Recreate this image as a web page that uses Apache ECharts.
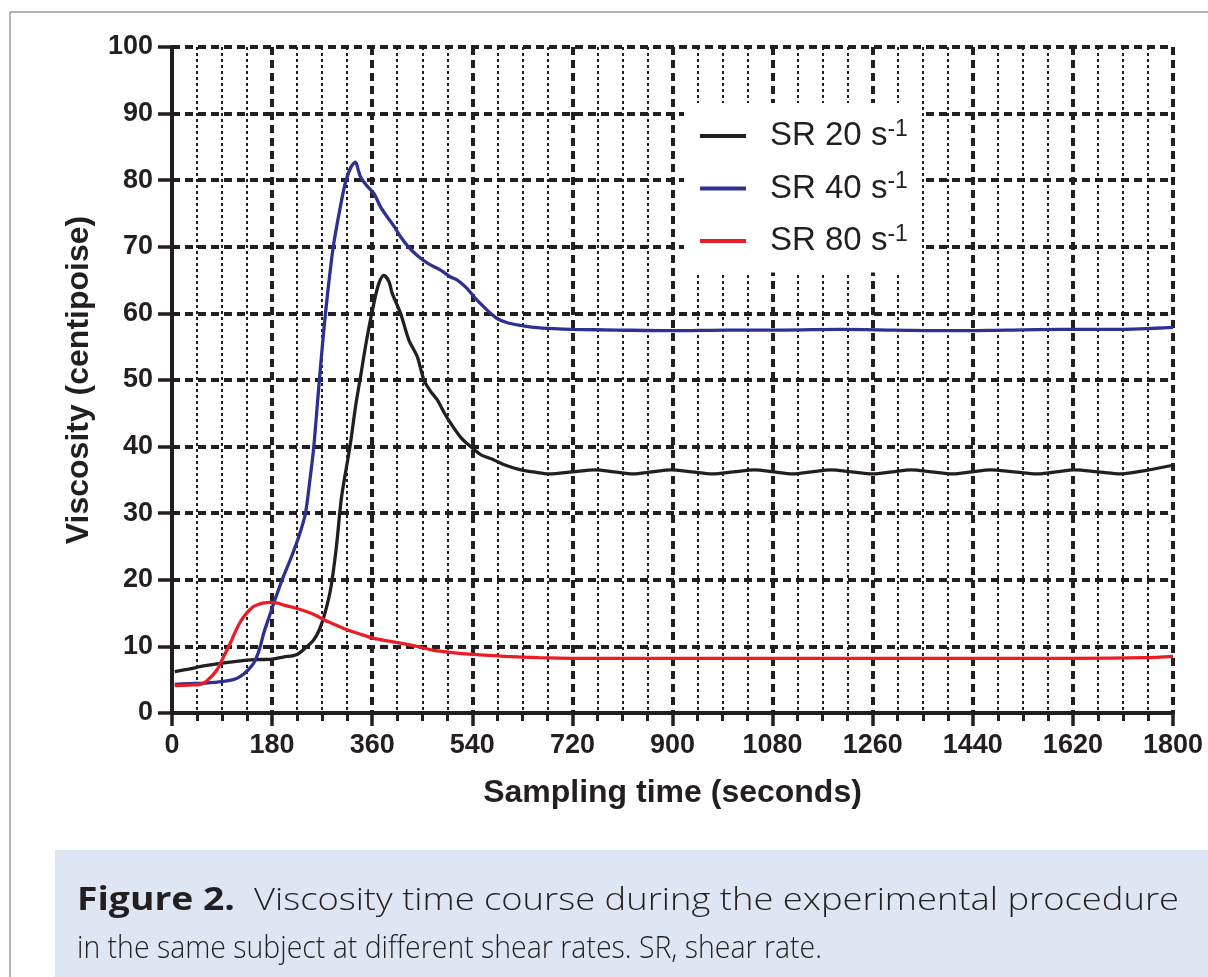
<!DOCTYPE html>
<html>
<head>
<meta charset="utf-8">
<script src="https://cdn.jsdelivr.net/npm/echarts@6/dist/echarts.min.js"></script>
<style>
html,body{margin:0;padding:0;background:#fff;}
#chart{width:1208px;height:977px;}
</style>
</head>
<body>
<div id="chart"></div>
<script>
// ---- data ----
const seriesNames = ['SR 20', 'SR 40', 'SR 80'];
const unitText = 's';
const unitExp = '-1';
const xMin = 0, xMax = 1800, xStep = 180;
const yMin = 0, yMax = 100, yStep = 10;
const xAxisTitle = 'Sampling time (seconds)';
const yAxisTitle = 'Viscosity (centipoise)';
const captionBold = 'Figure 2.';
const captionLine1 = 'Viscosity time course during the experimental procedure';
const captionLine2 = 'in the same subject at different shear rates. SR, shear rate.';

const sr20Time = [5,30,60,90,120,150,180,200,225,243,255,265,275,285,295,305,320,330,339,350,363,372,381,390,396,411,426,441,453,465,477,490,501,520,537,555,579,600,627,650,678,720,761,795,829,863,897,935,972,1010,1048,1082,1116,1150,1185,1222,1260,1295,1329,1366,1404,1438,1472,1514,1556,1590,1623,1665,1707,1750,1800];
const sr20Visc = [6.2,6.6,7.1,7.5,7.8,8.0,8.1,8.4,8.8,10.0,11.0,12.5,15.0,18.5,24.5,32.5,40.0,46.0,50.5,56.0,61.5,64.5,65.7,64.8,63.0,60.0,56.0,53.5,50.0,48.3,47.0,45.0,43.5,41.3,40.0,38.8,38.0,37.2,36.5,36.2,35.9,36.2,36.5,36.2,35.9,36.2,36.5,36.2,35.9,36.2,36.5,36.2,35.9,36.2,36.5,36.2,35.9,36.2,36.5,36.2,35.9,36.2,36.5,36.2,35.9,36.2,36.5,36.2,35.9,36.4,37.2];

const sr40Time = [5,30,60,90,110,123,135,147,157,165,175,183,198,215,230,240,248,255,265,276,290,305,313,322,330,335,339,350,363,375,387,400,411,425,441,460,483,500,513,530,543,558,573,585,603,627,651,687,720,800,900,1000,1100,1200,1300,1400,1500,1600,1700,1800];
const sr40Visc = [4.3,4.4,4.5,4.7,5.0,5.5,6.3,7.5,9.5,12.0,14.5,16.5,20.0,23.5,27.0,30.0,35.0,40.0,50.0,60.0,70.0,77.0,80.0,82.0,82.7,81.5,80.5,79.2,78.0,76.0,74.5,73.0,71.5,70.0,68.7,67.5,66.5,65.5,65.0,63.8,62.5,61.2,60.0,59.2,58.6,58.2,57.9,57.7,57.6,57.5,57.4,57.5,57.5,57.6,57.5,57.4,57.5,57.6,57.6,57.9];

const sr80Time = [5,30,51,65,81,93,105,115,123,132,140,147,155,163,177,190,201,220,243,260,273,295,315,340,363,390,411,440,471,500,540,600,660,720,900,1080,1260,1440,1620,1750,1800];
const sr80Visc = [4.1,4.2,4.3,5.0,6.5,8.5,10.5,12.4,13.7,14.8,15.5,16.0,16.3,16.5,16.6,16.5,16.2,15.8,15.2,14.6,14.0,13.2,12.5,11.8,11.2,10.8,10.5,10.0,9.4,9.1,8.8,8.5,8.3,8.2,8.2,8.2,8.2,8.2,8.2,8.3,8.5];

const seriesColors = ['#231f20', '#2e3192', '#ed1c24'];

// ---- build ----
function pairs(t, v) { return t.map((x, i) => [x, v[i]]); }
const seriesData = [pairs(sr20Time, sr20Visc), pairs(sr40Time, sr40Visc), pairs(sr80Time, sr80Visc)];

const ink = '#231f20';
const axisFamily = 'Liberation Sans, Arial, sans-serif';
const tickFont = { fontFamily: axisFamily, fontWeight: 'bold', fontSize: 27, color: ink };

// caption: each run is fitted horizontally to the span it covers in the figure
const capFamily = '"Open Sans", sans-serif';
const capSize = 32;
const capReg = '300 ' + capSize + 'px ' + capFamily;
const capBold = 'bold ' + capSize + 'px ' + capFamily;
const mctx = document.createElement('canvas').getContext('2d');
function textW(font, s) { mctx.font = font; return mctx.measureText(s).width; }
function capText(str, font, x0, x1, baseline) {
  const sx = (x1 - x0) / textW(font, str);
  return { type: 'text', x: x0, y: baseline, scaleX: sx, scaleY: 1, silent: true,
    style: { text: str, font: font, fill: ink, align: 'left', verticalAlign: 'bottom' } };
}
const d = 0.24 * capSize;
const capGraphics = [
  capText(captionBold, capBold, 77, 235, 909 + d),
  capText(captionLine1, capReg, 254, 1179, 909 + d),
  capText(captionLine2, capReg, 77, 822, 957 + d)
];

const chart = echarts.init(document.getElementById('chart'), null, { renderer: 'canvas' });
chart.setOption({
  animation: false,
  backgroundColor: '#fff',
  grid: { left: 172, right: 35, top: 47, bottom: 264, containLabel: false, outerBoundsMode: 'none' },
  xAxis: {
    type: 'value', min: xMin, max: xMax, interval: xStep,
    name: xAxisTitle, nameLocation: 'middle', nameGap: 64,
    nameTextStyle: { fontFamily: axisFamily, fontWeight: 'bold', fontSize: 32, color: ink },
    axisLine: { show: true, onZero: false, lineStyle: { color: ink, width: 4 } },
    axisTick: { show: true, length: 13, lineStyle: { color: ink, width: 3.5 } },
    minorTick: { show: true, splitNumber: 4, length: 8, lineStyle: { color: ink, width: 3 } },
    axisLabel: Object.assign({ margin: 19, formatter: v => String(v) }, tickFont),
    splitLine: { show: true, lineStyle: { color: ink, width: 4, type: [8, 5] } },
    minorSplitLine: { show: true, lineStyle: { color: ink, width: 2, type: [3, 3] } }
  },
  yAxis: {
    type: 'value', min: yMin, max: yMax, interval: yStep,
    name: yAxisTitle, nameLocation: 'middle', nameGap: 77, nameRotate: 90,
    nameTextStyle: { fontFamily: axisFamily, fontWeight: 'bold', fontSize: 32, color: ink },
    axisLine: { show: true, onZero: false, lineStyle: { color: ink, width: 4 } },
    axisTick: { show: true, length: 14, lineStyle: { color: ink, width: 3.5 } },
    axisLabel: Object.assign({ margin: 19, formatter: v => String(v) }, tickFont),
    splitLine: { show: true, lineStyle: { color: ink, width: 4, type: [8, 5] } }
  },
  legend: {
    orient: 'vertical', left: 684, top: 103,
    padding: [15, 14, 15, 16],
    backgroundColor: '#fff',
    itemWidth: 46, itemHeight: 4, itemGap: 18, icon: 'rect',
    data: seriesNames,
    formatter: function (name) { return '{a|' + name + ' ' + unitText + '}{b|' + unitExp + '}'; },
    textStyle: {
      color: ink,
      rich: {
        a: { fontFamily: axisFamily, fontSize: 33, lineHeight: 36, color: ink, padding: [0, 0, 0, 19] },
        b: { fontFamily: axisFamily, fontSize: 23, lineHeight: 22, color: ink, verticalAlign: 'top' }
      }
    },
    z: 10
  },
  series: seriesNames.map((n, i) => ({
    name: n, type: 'line', data: seriesData[i],
    showSymbol: false, symbol: 'none', smooth: 0.3,
    lineStyle: { color: seriesColors[i], width: 3.3 },
    itemStyle: { color: seriesColors[i] },
    z: 3
  })),
  graphic: [
    { type: 'line', shape: { x1: 10, y1: 12, x2: 1208, y2: 12 }, style: { stroke: '#9a9a9a', lineWidth: 1.5 }, silent: true },
    { type: 'line', shape: { x1: 10, y1: 12, x2: 10, y2: 977 }, style: { stroke: '#9a9a9a', lineWidth: 1.5 }, silent: true },
    { type: 'rect', shape: { x: 55, y: 850, width: 1153, height: 127 }, style: { fill: '#dfe6f3' }, silent: true }
  ].concat(capGraphics)
});
</script>
</body>
</html>
